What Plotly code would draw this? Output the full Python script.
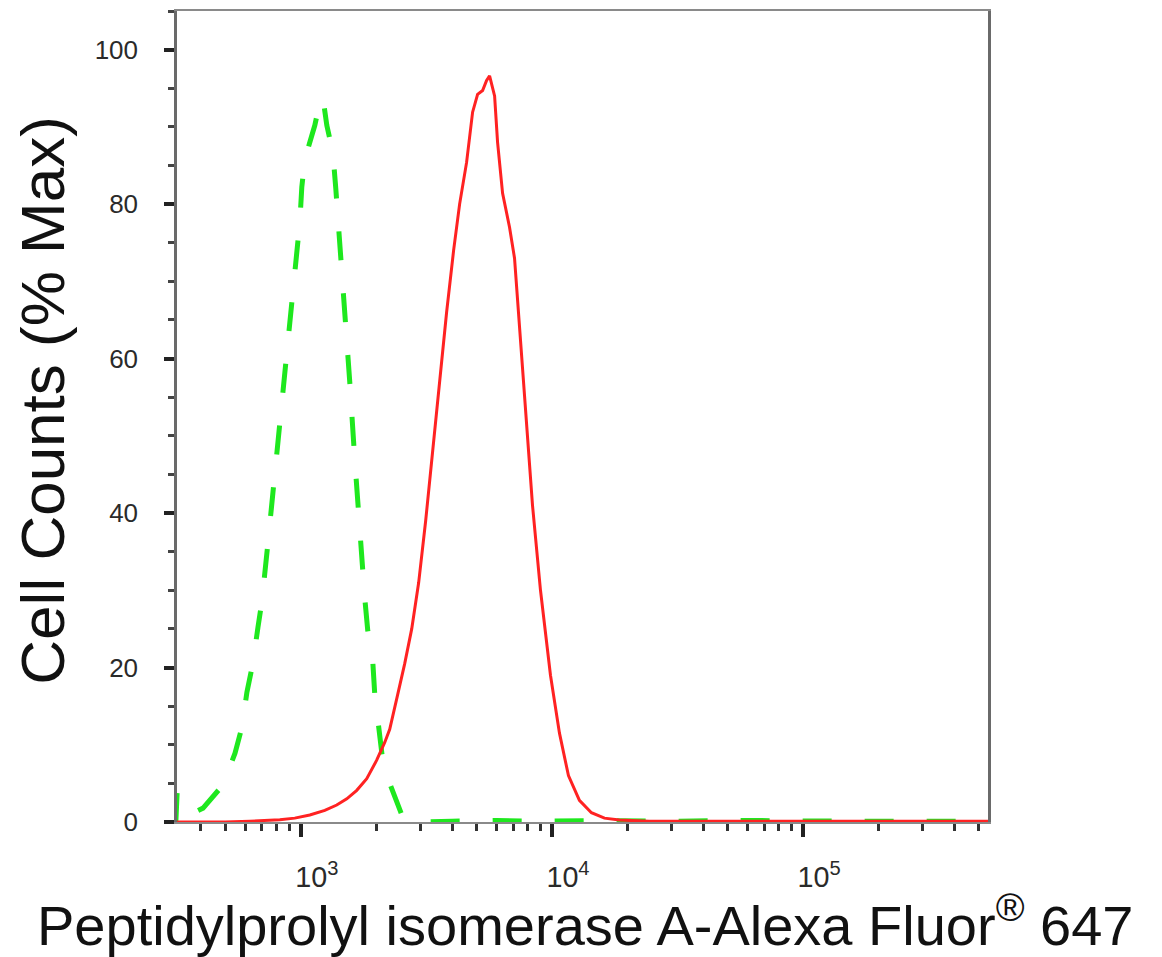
import plotly.graph_objects as go

# ---- data (fluorescence intensity vs % max cell counts) ----
red_x = [321, 500, 627, 719, 825, 946, 1086, 1246, 1390, 1524, 1670, 1830, 2005, 2158, 2259,
         2430, 2592, 2764, 2946, 3141, 3349, 3570, 3806, 4058, 4288, 4571, 4830, 5056, 5294,
         5491, 5644, 5909, 6073, 6358, 6776, 7094, 7427, 7846, 8365, 9000, 9863, 10710, 11630,
         12860, 14360, 16180, 18550, 24430, 40000, 80000, 150000, 300000, 560000]
red_y = [0, 0, 0.1, 0.2, 0.3, 0.5, 0.9, 1.5, 2.2, 3.0, 4.1, 5.6, 8, 10.3, 12,
         16.5, 20.5, 25, 31, 39, 48, 57, 66, 74, 80, 85.4, 91.9, 94.2, 94.7,
         96, 96.6, 94, 88, 81.4, 77, 73, 64, 53, 41, 30, 19, 11.5, 6,
         2.8, 1.2, 0.5, 0.25, 0.1, 0.1, 0.1, 0.1, 0.1, 0.1]

green_x = [318, 322, 346, 379, 408, 447, 490, 547, 583, 610, 644, 675, 700, 739, 788, 840,
           904, 973, 991, 1009, 1037, 1086, 1137, 1201, 1234, 1269, 1341, 1378, 1403, 1429,
           1496, 1566, 1639, 1717, 1797, 1847, 1933, 1969, 2024, 2118, 2259, 2408, 2545,
           2788, 3055, 4000, 6000, 9000, 15000, 30000, 60000, 150000, 400000, 560000]
green_y = [0, 4, 2.5, 1.3, 1.8, 3.2, 4.8, 8.9, 12.3, 16.8, 20.5, 25.2, 28.6, 36, 45, 54,
           64, 74, 77.7, 82.2, 85.8, 88, 90.2, 93.8, 93, 90.2, 86.7, 82, 78.6, 73.8,
           67, 57, 47, 37, 29, 24.8, 20.9, 16.6, 12.8, 8, 5, 2.5, 0.6,
           0.2, 0, 0.1, 0.2, 0.1, 0.2, 0.1, 0.2, 0.1, 0.2, 0.1]

y_ticks = [0, 20, 40, 60, 80, 100]
x_title = "Peptidylprolyl isomerase A-Alexa Fluor<sup>®</sup> 647"
y_title = "Cell Counts (% Max)"

FONT = "Liberation Sans, Arial, Helvetica, sans-serif"

fig = go.Figure()
fig.add_trace(go.Scatter(x=green_x, y=green_y, mode="lines",
                         line=dict(color="#1ee81e", width=5, dash="29px,33px"),
                         showlegend=False))
fig.add_trace(go.Scatter(x=red_x, y=red_y, mode="lines",
                         line=dict(color="#ff2222", width=3),
                         showlegend=False))

fig.update_layout(
    width=1154, height=949,
    margin=dict(l=169, r=174, t=1, b=135),
    paper_bgcolor="white", plot_bgcolor="white",
    font=dict(family=FONT, color="#222"),
    xaxis=dict(
        type="log", range=[2.507, 5.736],
        dtick=1, exponentformat="power", showexponent="all",
        ticks="outside", ticklen=13, tickwidth=4, tickcolor="#222",
        tickfont=dict(size=23, color="#2a2a2a"), ticklabelstandoff=17,
        ticklabelshift=16,
        showgrid=False, zeroline=False,
        showline=True, linecolor="#8a8a8a", linewidth=2, mirror=True,
        minor=dict(dtick="D1", ticks="outside", ticklen=7, tickwidth=2.5,
                   tickcolor="#333", showgrid=False),
    ),
    yaxis=dict(
        range=[0, 105], tickvals=y_ticks,
        ticks="outside", ticklen=10, tickwidth=4, tickcolor="#222",
        tickfont=dict(size=26, color="#2a2a2a"), ticklabelstandoff=21,
        showgrid=False, zeroline=False,
        showline=True, linecolor="#6a6a6a", linewidth=2.5, mirror=True,
        minor=dict(dtick=5, ticks="outside", ticklen=6, tickwidth=2.5,
                   tickcolor="#444", showgrid=False),
    ),
    annotations=[
        dict(text=x_title, xref="paper", yref="paper", x=0.504, y=-0.1228,
             xanchor="center", yanchor="middle", showarrow=False,
             font=dict(size=56, color="#111", family=FONT)),
        dict(text=y_title, xref="paper", yref="paper", x=-0.166, y=0.52,
             xanchor="center", yanchor="middle", showarrow=False, textangle=-90,
             font=dict(size=62, color="#111", family=FONT)),
    ],
)

fig.write_html("out.html")
